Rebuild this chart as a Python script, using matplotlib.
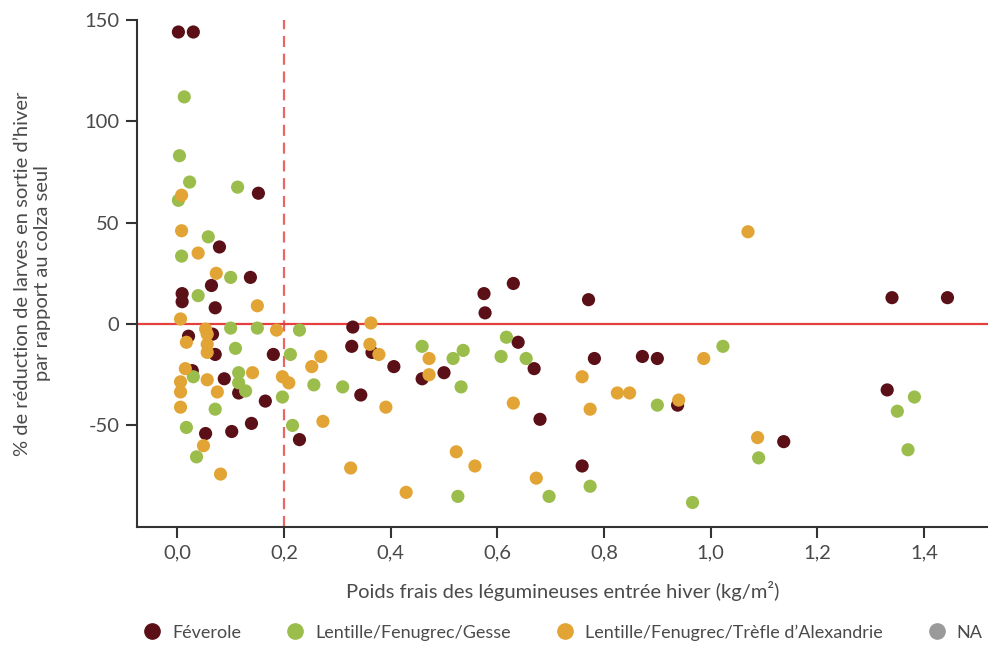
import numpy as np
import matplotlib.pyplot as plt
from matplotlib.lines import Line2D

# poids frais (kg/m2) et % de réduction
fev_x = [0.002, 0.030, 0.152, 0.079, 0.064, 0.137, 0.009, 0.009, 0.071, 0.021,
         0.066, 0.071, 0.180, 0.028, 0.088, 0.115, 0.165, 0.053, 0.102, 0.139,
         0.229, 0.329, 0.327, 0.365, 0.406, 0.344, 0.459, 0.500, 0.575, 0.577,
         0.630, 0.639, 0.669, 0.680, 0.771, 0.782, 0.872, 0.900, 0.938, 1.137,
         0.759, 1.340, 1.444, 1.331]
fev_y = [144, 144, 64.5, 38, 19, 23, 15, 11, 8, -6,
         -5, -15, -15, -23, -27, -34, -38, -54, -53, -49,
         -57, -1.5, -11, -14, -21, -35, -27, -24, 15, 5.5,
         20, -9, -22, -47, 12, -17, -16, -17, -40, -58,
         -70, 13, 13, -32.5]

gesse_x = [0.013, 0.004, 0.023, 0.002, 0.113, 0.058, 0.008, 0.100, 0.039, 0.100,
           0.150, 0.229, 0.109, 0.212, 0.030, 0.115, 0.115, 0.128, 0.256, 0.197,
           0.071, 0.017, 0.216, 0.036, 0.310, 0.459, 0.517, 0.536, 0.532, 0.526,
           0.617, 0.607, 0.654, 0.697, 1.023, 0.900, 0.774, 0.966, 1.090, 1.382,
           1.350, 1.370]
gesse_y = [112, 83, 70, 61, 67.5, 43, 33.5, 23, 14, -2,
           -2, -3, -12, -15, -26, -24, -29, -33, -30, -36,
           -42, -51, -50, -65.5, -31, -11, -17, -13, -31, -85,
           -6.5, -16, -17, -85, -11, -40, -80, -88, -66, -36,
           -43, -62]

trefle_x = [0.008, 0.008, 0.039, 0.073, 0.150, 0.006, 0.053, 0.186, 0.017, 0.056,
            0.056, 0.056, 0.252, 0.269, 0.015, 0.141, 0.006, 0.006, 0.056, 0.075,
            0.197, 0.209, 0.006, 0.049, 0.081, 0.273, 0.363, 0.361, 0.378, 0.391,
            0.325, 0.429, 0.472, 0.472, 0.523, 0.558, 0.630, 0.673, 0.759, 0.825,
            0.848, 0.774, 0.940, 0.987, 1.070, 1.088]
trefle_y = [63.5, 46, 35, 25, 9, 2.5, -2.5, -3, -9, -5,
            -10, -14, -21, -16, -22, -24, -28.5, -33.5, -27.5, -33.5,
            -26, -29, -41, -60, -74, -48, 0.5, -10, -15, -41,
            -71, -83, -17, -25, -63, -70, -39, -76, -26, -34,
            -34, -42, -37.5, -17, 45.5, -56]

labels = ["Féverole", "Lentille/Fenugrec/Gesse",
          "Lentille/Fenugrec/Trèfle d’Alexandrie", "NA"]
colors = ["#5b1017", "#9bbd4c", "#e2a535", "#9a9a9a"]

plt.rcParams['font.family'] = ['Lato', 'DejaVu Sans']
plt.rcParams['axes.unicode_minus'] = False
txt = "#4a4a4a"

fig = plt.figure(figsize=(9.88, 6.61), dpi=100)
ax = fig.add_axes([0.139, 0.203, 0.861, 0.767])

ax.axhline(0, color="#e4403f", lw=1.6, zorder=1)
ax.axvline(0.2, color="#e4403f", lw=1.6, ls=(0, (5, 3)), alpha=0.8, zorder=1)

series = [(fev_x, fev_y), (gesse_x, gesse_y), (trefle_x, trefle_y)]
for (xs, ys), c in zip(series, colors):
    ax.scatter(xs, ys, s=90, color=c, edgecolors="none", zorder=3)

ax.set_xlim(-0.075, 1.52)
ax.set_ylim(-100, 150)
ax.set_yticks([-50, 0, 50, 100, 150])
ax.set_xticks(np.arange(0, 1.41, 0.2))
ax.set_xticklabels([f"{v:.1f}".replace(".", ",") for v in np.arange(0, 1.41, 0.2)])

for s in ["top", "right"]:
    ax.spines[s].set_visible(False)
for s in ["left", "bottom"]:
    ax.spines[s].set_color("#333333")
    ax.spines[s].set_linewidth(1.5)
ax.tick_params(length=8, width=1.5, color="#333333", labelsize=14.5,
               labelcolor=txt, pad=5)

ax.set_xlabel("Poids frais des légumineuses entrée hiver (kg/m²)",
              fontsize=14.5, color=txt, labelpad=14)
ax.set_ylabel("% de réduction de larves en sortie d’hiver\npar rapport au colza seul",
              fontsize=14.5, color=txt, labelpad=24)

handles = [Line2D([], [], marker="o", ls="", markersize=11, color=c) for c in colors]
fig.legend(handles, labels, loc="center", bbox_to_anchor=(0.565, 0.043), ncol=4,
           frameon=False, fontsize=13, handletextpad=0.1, columnspacing=2.0,
           labelcolor=txt)

fig.savefig("out.png", dpi=100)
